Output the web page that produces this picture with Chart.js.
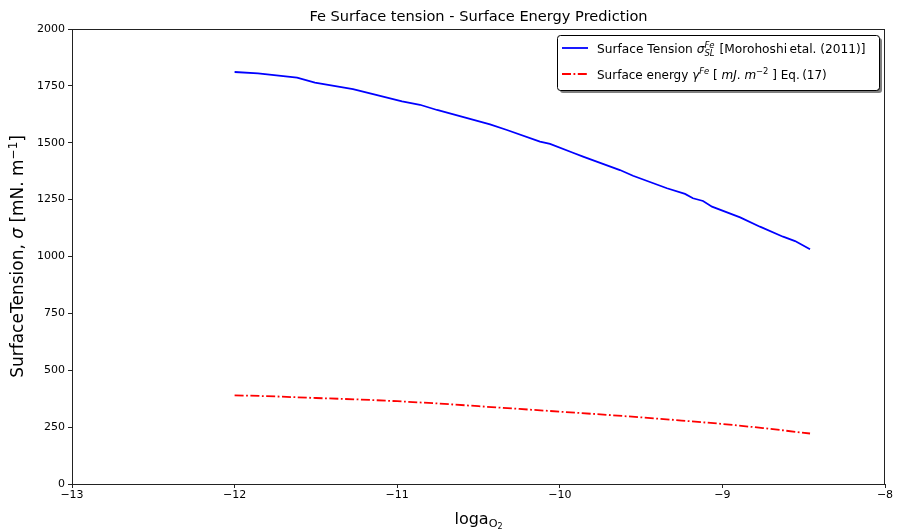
<!DOCTYPE html>
<html><head><meta charset="utf-8">
<script src="https://cdn.jsdelivr.net/npm/chart.js@4.4.0/dist/chart.umd.min.js"></script>
<style>html,body{margin:0;padding:0;background:#fff;}canvas{display:block;}</style>
</head><body>
<canvas id="c" width="899" height="531"></canvas>
<script>
// ---- data ----
const tensionX = [-12.0, -11.856, -11.616, -11.506, -11.272, -11.167, -10.970, -10.860, -10.755, -10.429, -10.325, -10.122, -10.060, -9.919, -9.857, -9.630, -9.550, -9.341, -9.230, -9.181, -9.119, -9.064, -8.891, -8.769, -8.627, -8.553, -8.461];
const tensionY = [1811, 1805, 1786, 1764, 1736, 1717, 1682, 1667, 1644, 1581, 1556, 1505, 1495, 1456, 1439, 1380, 1355, 1300, 1275, 1256, 1244, 1219, 1172, 1131, 1087, 1068, 1032];
const energyX = [-12.0, -11.75, -11.5, -11.25, -11.0, -10.75, -10.5, -10.25, -10.0, -9.75, -9.5, -9.25, -9.0, -8.75, -8.461];
const energyY = [390, 385, 378, 372, 364, 354, 342, 330, 318, 306, 293, 279, 264, 246, 222];
const xTicks = [-13, -12, -11, -10, -9, -8];
const yTicks = [0, 250, 500, 750, 1000, 1250, 1500, 1750, 2000];
const titleText = "Fe Surface tension - Surface Energy Prediction";

const FONT = "'DejaVu Sans', sans-serif";

function richText(ctx, x, y, segs, baseSize) {
  let cx = x;
  for (const s of segs) {
    let size = baseSize, dy = 0;
    if (s.sup) { size = baseSize * 0.7; dy = -baseSize * 0.38; }
    if (s.sub) { size = baseSize * 0.7; dy = baseSize * 0.22; }
    if (s.stack) {
      ctx.font = 'italic ' + (baseSize*0.7) + 'px ' + FONT;
      const w1 = ctx.measureText(s.stack[0]).width, w2 = ctx.measureText(s.stack[1]).width;
      ctx.fillText(s.stack[0], cx, y - baseSize*0.42);
      ctx.fillText(s.stack[1], cx, y + baseSize*0.25);
      cx += Math.max(w1, w2) + 1;
      continue;
    }
    ctx.font = (s.italic ? 'italic ' : '') + size + 'px ' + FONT;
    ctx.fillText(s.t, cx, y + dy);
    cx += ctx.measureText(s.t).width;
  }
  return cx - x;
}
function richWidth(ctx, segs, baseSize) {
  let w = 0;
  for (const s of segs) {
    let size = (s.sup || s.sub) ? baseSize*0.7 : baseSize;
    if (s.stack) {
      ctx.font = 'italic ' + (baseSize*0.7) + 'px ' + FONT;
      w += Math.max(ctx.measureText(s.stack[0]).width, ctx.measureText(s.stack[1]).width) + 1;
      continue;
    }
    ctx.font = (s.italic ? 'italic ' : '') + size + 'px ' + FONT;
    w += ctx.measureText(s.t).width;
  }
  return w;
}

const decor = {
  id: 'decor',
  afterDraw(chart) {
    const ctx = chart.ctx, a = chart.chartArea;
    ctx.save();
    // frame
    ctx.strokeStyle = '#222'; ctx.lineWidth = 1;
    ctx.strokeRect(Math.round(a.left)+0.5, Math.round(a.top)+0.5, Math.round(a.right-a.left)-1, Math.round(a.bottom-a.top));
    ctx.fillStyle = '#000';
    ctx.textBaseline = 'alphabetic';
    // title
    ctx.font = '14.6px ' + FONT; ctx.textAlign = 'center';
    ctx.fillText(titleText, (a.left + a.right)/2, 21);
    // x label
    ctx.textAlign = 'left';
    const xsz = 16;
    ctx.font = xsz + 'px ' + FONT;
    const w1 = ctx.measureText('loga').width;
    ctx.font = (xsz*0.7) + 'px ' + FONT;
    const w2 = ctx.measureText('O').width;
    ctx.font = (xsz*0.5) + 'px ' + FONT;
    const w3 = ctx.measureText('2').width;
    const xs = (a.left + a.right)/2 - (w1+w2+w3)/2;
    ctx.font = xsz + 'px ' + FONT; ctx.fillText('loga', xs, 524);
    ctx.font = (xsz*0.7) + 'px ' + FONT; ctx.fillText('O', xs + w1, 527);
    ctx.font = (xsz*0.5) + 'px ' + FONT; ctx.fillText('2', xs + w1 + w2, 529);
    // y label
    ctx.save();
    ctx.translate(23, (a.top + a.bottom)/2);
    ctx.rotate(-Math.PI/2);
    const ysegs = [{t:'SurfaceTension, '},{t:'σ', italic:true},{t:' [mN. m'},{t:'−1', sup:true},{t:']'}];
    const yw = richWidth(ctx, ysegs, 17);
    richText(ctx, -yw/2, 0, ysegs, 17);
    ctx.restore();
    // legend
    const lx = 557, ly = 35, lw = 322, lh = 55;
    function rr(x, y, w, h, r) {
      ctx.beginPath();
      ctx.moveTo(x+r, y); ctx.lineTo(x+w-r, y); ctx.quadraticCurveTo(x+w, y, x+w, y+r);
      ctx.lineTo(x+w, y+h-r); ctx.quadraticCurveTo(x+w, y+h, x+w-r, y+h);
      ctx.lineTo(x+r, y+h); ctx.quadraticCurveTo(x, y+h, x, y+h-r);
      ctx.lineTo(x, y+r); ctx.quadraticCurveTo(x, y, x+r, y); ctx.closePath();
    }
    ctx.fillStyle = 'rgba(0,0,0,0.5)';
    rr(lx+3, ly+3, lw, lh, 3); ctx.fill();
    ctx.fillStyle = '#fff'; rr(lx, ly, lw, lh, 3); ctx.fill();
    ctx.strokeStyle = '#000'; ctx.lineWidth = 1; rr(lx+0.5, ly+0.5, lw, lh, 3); ctx.stroke();
    ctx.lineWidth = 1.8;
    ctx.strokeStyle = '#0000ff'; ctx.setLineDash([]);
    ctx.beginPath(); ctx.moveTo(562, 48); ctx.lineTo(588, 48); ctx.stroke();
    ctx.strokeStyle = '#ff0000'; ctx.setLineDash([9, 2.5, 1.8, 2.5]);
    ctx.beginPath(); ctx.moveTo(562, 74); ctx.lineTo(588, 74); ctx.stroke();
    ctx.setLineDash([]);
    ctx.fillStyle = '#000';
    const s1 = [{t:'Surface Tension '},{t:'σ', italic:true},{stack:['Fe','SL']},{t:' [Morohoshi\u2009etal. (2011)]'}];
    const s2 = [{t:'Surface energy '},{t:'γ', italic:true},{t:'Fe', italic:true, sup:true},{t:' [ '},{t:'mJ', italic:true},{t:'. '},{t:'m', italic:true},{t:'−2', sup:true},{t:' ] Eq.\u2009(17)'}];
    richText(ctx, 597, 53, s1, 12.2);
    richText(ctx, 597, 79, s2, 12);
    ctx.restore();
  }
};

const fmt = v => String(v).replace('-', '\u2212');

new Chart(document.getElementById('c'), {
  type: 'line',
  data: {
    datasets: [
      { data: tensionX.map((x,i)=>({x, y: tensionY[i]})), borderColor: '#0000ff', borderWidth: 1.8, pointRadius: 0, tension: 0, fill: false },
      { data: energyX.map((x,i)=>({x, y: energyY[i]})), borderColor: '#ff0000', borderWidth: 1.8, borderDash: [9, 2.5, 1.8, 2.5], pointRadius: 0, tension: 0, fill: false }
    ]
  },
  options: {
    responsive: false, animation: false,
    layout: { padding: { top: 29, right: 14, left: 0, bottom: 0 } },
    plugins: { legend: { display: false }, tooltip: { enabled: false }, title: { display: false } },
    scales: {
      x: {
        type: 'linear', min: -13, max: -8,
        afterBuildTicks: s => { s.ticks = xTicks.map(v => ({value: v})); },
        afterFit: s => { s.height = 47; },
        ticks: { callback: fmt, color: '#000', font: { family: FONT, size: 11 }, padding: 1, maxRotation: 0 },
        grid: { drawOnChartArea: false, drawTicks: true, tickLength: 4, color: '#222' },
        border: { display: false }
      },
      y: {
        type: 'linear', min: 0, max: 2000,
        afterBuildTicks: s => { s.ticks = yTicks.map(v => ({value: v})); },
        afterFit: s => { s.width = 72; },
        ticks: { callback: fmt, color: '#000', font: { family: FONT, size: 11 }, padding: 3 },
        grid: { drawOnChartArea: false, drawTicks: true, tickLength: 4, color: '#222' },
        border: { display: false }
      }
    }
  },
  plugins: [decor]
});
</script>
</body></html>
